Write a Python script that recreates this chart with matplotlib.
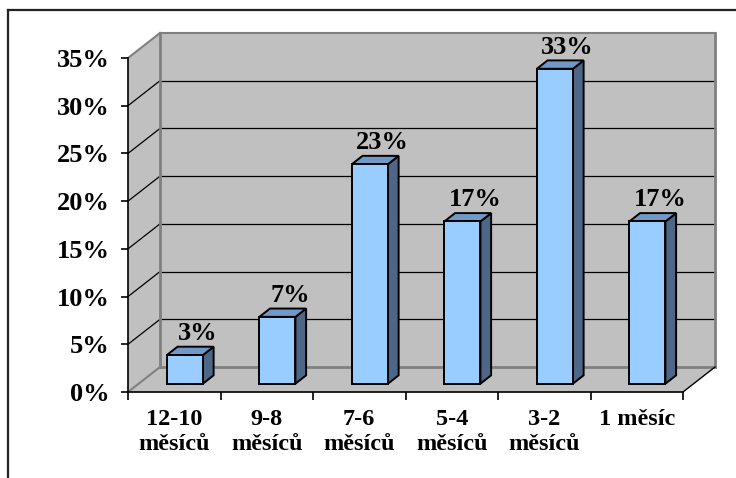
#!/usr/bin/env python

import numpy as np
import matplotlib
matplotlib.use('Agg')
import matplotlib.pyplot as plt
from matplotlib.patches import Polygon
from matplotlib.lines import Line2D

# Data
categories = ['12-10\nměsíců','9-8\nměsíců','7-6\nměsíců','5-4\nměsíců','3-2\nměsíců','1 měsíc']
values = [3,7,23,17,33,17]
labels = ['3%','7%','23%','17%','33%','17%']
ticks = [0,5,10,15,20,25,30,35]
ticklabels = ['%d%%'%(t) for t in ticks]

def wall(ax,points,**kwargs):
	'''
	Add polygon in data coordinates, unclipped
	'''
	patch = Polygon(points,closed=True,transform=ax.transData,clip_on=False,**kwargs)
	ax.add_patch(patch)
	return patch

def line(ax,x,y,**kwargs):
	ax.add_line(Line2D(x,y,transform=ax.transData,clip_on=False,**kwargs))

def plot(path='out.png'):

	width,height = 736,478
	fig = plt.figure(figsize=(width/100,height/100),dpi=100)
	fig.patch.set_facecolor('white')

	# front plane of the 3d box, in pixels
	x0,x1,y0,y1 = 128,683,58,392
	ax = fig.add_axes([x0/width,(height-y1)/height,(x1-x0)/width,(y1-y0)/height])
	ax.set_xlim(0,len(values))
	ax.set_ylim(0,35)
	ax.patch.set_visible(False)

	# depth offset in data units
	dx = 32/((x1-x0)/len(values))
	dy = 25/((y1-y0)/35)
	n = len(values)
	top = 35

	grey = '#C0C0C0'
	edge = '#808080'
	font = {'fontweight':'bold','family':'Liberation Serif'}

	# walls and floor
	wall(ax,[(dx,dy),(n+dx,dy),(n+dx,top+dy),(dx,top+dy)],facecolor=grey,edgecolor='none',zorder=0)
	wall(ax,[(0,0),(dx,dy),(dx,top+dy),(0,top)],facecolor=grey,edgecolor='none',zorder=0)
	wall(ax,[(0,0),(n,0),(n+dx,dy),(dx,dy)],facecolor=grey,edgecolor='none',zorder=0)

	# gridlines
	for t in ticks[1:-1]:
		line(ax,[dx,n+dx],[t+dy,t+dy],color='black',lw=0.9,zorder=1)
		line(ax,[0,dx],[t,t+dy],color='black',lw=0.9,zorder=1)

	# box edges
	line(ax,[dx,dx],[dy,top+dy],color=edge,lw=2,zorder=1)
	line(ax,[dx,n+dx],[dy,dy],color=edge,lw=2,zorder=1)
	line(ax,[0,dx],[0,dy],color=edge,lw=1.5,zorder=1)
	line(ax,[0,dx],[top,top+dy],color=edge,lw=1.5,zorder=1)
	line(ax,[dx,n+dx],[top+dy,top+dy],color=edge,lw=1.5,zorder=1)
	line(ax,[n+dx,n+dx],[dy,top+dy],color=edge,lw=2,zorder=1)
	line(ax,[n,n+dx],[0,dy],color='black',lw=1,zorder=1)

	# bars
	d0,d1 = 1/3,2/3
	w = 0.195
	options = {'edgecolor':'black','lw':1.4,'joinstyle':'miter','zorder':3}
	for i,v in enumerate(values):
		c = i+0.5
		l,r = c-w+dx*d0,c+w+dx*d0
		a,b = dx*d0,dy*d0
		p,q = dx*d1,dy*d1
		wall(ax,[(r,b),(r-a+p,q),(r-a+p,v+q),(r,v+b)],facecolor='#4E6786',**options)
		wall(ax,[(l,v+b),(r,v+b),(r-a+p,v+q),(l-a+p,v+q)],facecolor='#7099C8',**options)
		wall(ax,[(l,b),(r,b),(r,v+b),(l,v+b)],facecolor='#99CCFF',**options)
		ax.text(c+p+0.02,v+q+0.7,labels[i],ha='center',va='baseline',fontsize=19,zorder=4,**font)

	# axes
	for s in ['top','right']:
		ax.spines[s].set_visible(False)
	for s in ['left','bottom']:
		ax.spines[s].set_color('black')
		ax.spines[s].set_linewidth(1.2)
		ax.spines[s].set_zorder(2)

	ax.set_yticks(ticks)
	ax.set_yticklabels(ticklabels,fontsize=19,**font)
	ax.tick_params(axis='y',direction='out',length=5,width=1.2,pad=8)

	ax.set_xticks(np.arange(n+1))
	ax.set_xticklabels([])
	ax.set_xticks(np.arange(n)+0.5,minor=True)
	ax.set_xticklabels(categories,minor=True,fontsize=17.5,linespacing=1.3,va='top',**font)
	ax.tick_params(axis='x',which='major',direction='out',length=6,width=1.2)
	ax.tick_params(axis='x',which='minor',length=0,pad=12)

	# frame round the chart area
	fig.add_artist(Line2D([7.5/width,7.5/width],[0,1-10/height],color='#222222',lw=1.6))
	fig.add_artist(Line2D([7.5/width,1],[1-10/height,1-10/height],color='#222222',lw=1.6))

	fig.savefig(path,dpi=100)

	return

if __name__ == '__main__':
	plot()
